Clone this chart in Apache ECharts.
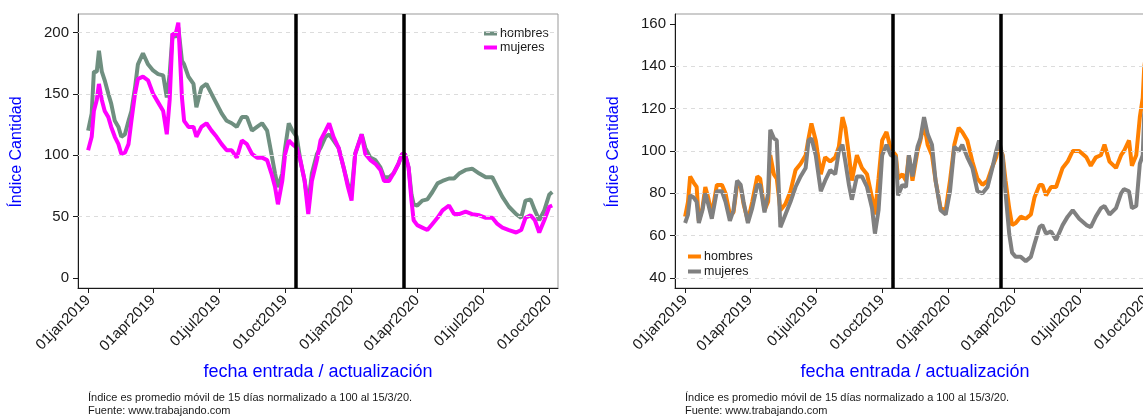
<!DOCTYPE html>
<html>
<head>
<meta charset="utf-8">
<script src="https://cdn.jsdelivr.net/npm/echarts@6/dist/echarts.min.js"></script>
<style>
  html, body { margin: 0; padding: 0; background: #fff; }
  #chart { width: 1143px; height: 419px; }
</style>
</head>
<body>
<div id="chart"></div>
<script>
// days counted from 01jan2019
const tickDays = [0, 90, 181, 273, 365, 456, 547, 639]
const tickLabels = ['01jan2019', '01apr2019', '01jul2019', '01oct2019', '01jan2020', '01apr2020', '01jul2020', '01oct2020']
const eventDays = [288, 437]

const yTicksLeft = [0, 50, 100, 150, 200]
const yGridLeft = [50, 100, 150, 200]
const yTicksRight = [40, 60, 80, 100, 120, 140, 160]
const yGridRight = [40, 60, 80, 100, 120, 140]

// left panel: hombres / mujeres
const daysLeft = [0, 5, 8, 12, 15, 19, 23, 28, 32, 37, 42, 46, 51, 56, 60, 65, 69, 76, 83, 90,
  97, 104, 109, 113, 117, 121, 125, 130, 133, 139, 146, 150, 157, 164, 171, 178, 185, 192, 199, 206,
  213, 220, 227, 234, 241, 248, 254, 259, 263, 269, 273, 278, 283, 289, 294, 300, 305, 310, 317, 322,
  329, 334, 340, 347, 354, 360, 365, 370, 379, 384, 391, 398, 405, 410, 417, 423, 430, 435, 439, 444,
  448, 451, 456, 463, 470, 477, 484, 491, 500, 507, 514, 523, 532, 542, 551, 560, 567, 574, 583, 593,
  600, 606, 613, 619, 625, 632, 639, 643]
const hombresLeft = [120, 134, 168, 168, 185, 168, 161, 150, 142, 128, 123, 115, 117, 128, 136, 155, 174, 183, 174, 169,
  166, 165, 147, 166, 199, 196, 204, 177, 174, 164, 158, 139, 155, 158, 150, 142, 134, 128, 126, 123,
  131, 131, 120, 123, 126, 120, 101, 85, 74, 85, 106, 126, 120, 115, 96, 79, 60, 85, 101, 106,
  115, 117, 112, 106, 90, 76, 71, 101, 117, 106, 98, 96, 90, 82, 82, 85, 93, 101, 101, 90,
  68, 60, 59, 63, 64, 70, 77, 79, 81, 81, 85, 88, 89, 85, 82, 82, 74, 66, 58, 52,
  49, 63, 64, 55, 47, 55, 68, 70]
const mujeresLeft = [104, 115, 136, 145, 158, 145, 136, 131, 123, 115, 109, 101, 102, 109, 128, 150, 162, 164, 161, 150,
  143, 136, 117, 145, 199, 198, 208, 147, 128, 123, 123, 115, 123, 126, 120, 115, 109, 104, 104, 98,
  112, 109, 101, 98, 98, 96, 85, 74, 60, 79, 101, 112, 109, 106, 96, 79, 52, 79, 96, 112,
  120, 126, 115, 106, 90, 74, 63, 101, 117, 101, 96, 93, 88, 79, 79, 85, 93, 101, 101, 90,
  63, 47, 43, 41, 39, 44, 49, 55, 59, 52, 52, 54, 52, 51, 49, 49, 44, 41, 39, 37,
  39, 49, 51, 47, 37, 47, 58, 59]

// right panel: hombres / mujeres
const daysRight = [0, 4, 7, 12, 16, 19, 24, 28, 32, 37, 44, 51, 56, 62, 67, 72, 77, 81, 87, 93,
  100, 104, 110, 115, 118, 123, 127, 132, 139, 146, 153, 160, 167, 171, 175, 181, 188, 194, 201, 208,
  213, 218, 222, 227, 231, 238, 245, 252, 259, 263, 268, 273, 279, 285, 292, 295, 301, 306, 310, 315,
  322, 326, 331, 336, 342, 347, 354, 361, 367, 373, 379, 384, 391, 398, 405, 412, 419, 425, 431, 435,
  440, 444, 449, 453, 458, 465, 472, 479, 484, 491, 495, 500, 507, 514, 523, 530, 537, 546, 556, 562,
  569, 576, 581, 588, 597, 604, 608, 615, 619, 625, 630, 634, 636, 640, 643]
const hombresRight = [69, 76, 88, 85, 83, 67, 73, 83, 78, 70, 84, 84, 80, 70, 71, 84, 83, 75, 67, 76,
  88, 87, 72, 76, 98, 89, 87, 72, 75, 81, 91, 94, 98, 106, 113, 105, 89, 97, 95, 97,
  102, 116, 111, 98, 86, 98, 92, 89, 78, 70, 87, 105, 109, 101, 98, 87, 89, 86, 98, 86,
  100, 105, 113, 103, 98, 86, 73, 72, 86, 103, 111, 109, 105, 95, 87, 84, 86, 92, 97, 103,
  98, 86, 73, 65, 66, 69, 68, 70, 78, 84, 84, 79, 83, 83, 92, 95, 100, 100, 97, 93,
  97, 98, 103, 95, 92, 98, 100, 105, 93, 98, 116, 125, 139, 150, 155]
const mujeresRight = [66, 70, 79, 78, 76, 66, 72, 80, 75, 68, 81, 81, 76, 67, 72, 86, 84, 76, 66, 73,
  84, 84, 71, 80, 110, 106, 105, 64, 70, 76, 83, 88, 92, 105, 106, 98, 81, 86, 91, 89,
  100, 103, 95, 84, 77, 88, 88, 83, 73, 61, 72, 98, 103, 98, 97, 79, 84, 83, 98, 88,
  102, 106, 116, 108, 103, 86, 72, 70, 81, 102, 100, 103, 97, 92, 81, 80, 83, 91, 100, 105,
  97, 80, 61, 52, 50, 50, 48, 50, 56, 64, 65, 61, 62, 58, 65, 69, 72, 68, 65, 64,
  69, 73, 74, 70, 73, 80, 82, 81, 73, 74, 94, 98, 117, 125, 130]

const colorsLeft = ['#6f8f80', '#ff00ff']
const colorsRight = ['#ff8000', '#808080']
const font = 'Liberation Sans, Arial, sans-serif'
const ink = '#1a1a1a'

const pairs = (xs, ys) => xs.map((d, i) => [d, ys[i]])

function xAxisFor(gridIndex) {
  return {
    type: 'value', gridIndex, min: -14, max: 651,
    axisLine: { show: true, onZero: false, lineStyle: { color: ink, width: 1 } },
    axisTick: { show: true, customValues: tickDays, length: 5, lineStyle: { color: ink } },
    axisLabel: {
      customValues: tickDays, rotate: 45, margin: 10, fontSize: 15, fontFamily: font, color: ink,
      formatter: v => tickLabels[tickDays.indexOf(v)] || ''
    },
    splitLine: { show: false }
  }
}

function yAxisFor(gridIndex, min, max, ticks) {
  return {
    type: 'value', gridIndex, min, max,
    axisLine: { show: true, onZero: false, lineStyle: { color: ink, width: 1 } },
    axisTick: { show: true, customValues: ticks, length: 5, lineStyle: { color: ink } },
    axisLabel: { customValues: ticks, margin: 9, fontSize: 15, fontFamily: font, color: ink },
    splitLine: { show: false }
  }
}

function gridSeries(idx, values) {
  return {
    type: 'line', xAxisIndex: idx, yAxisIndex: idx, data: [], silent: true, z: 1,
    markLine: {
      symbol: 'none', silent: true, animation: false, label: { show: false },
      lineStyle: { color: '#dcdcdc', type: [4, 4], width: 1 },
      data: values.map(v => ({ yAxis: v }))
    }
  }
}

function eventSeries(idx) {
  return {
    type: 'line', xAxisIndex: idx, yAxisIndex: idx, data: [], silent: true, z: 10,
    markLine: {
      symbol: 'none', silent: true, animation: false, label: { show: false },
      lineStyle: { color: '#000', type: 'solid', width: 3.5 },
      data: eventDays.map(d => ({ xAxis: d }))
    }
  }
}

function dataSeries(idx, name, xs, ys, color, z) {
  return {
    type: 'line', name, xAxisIndex: idx, yAxisIndex: idx, z,
    data: pairs(xs, ys), showSymbol: false, symbol: 'none', smooth: false,
    lineStyle: { color, width: 4 }, itemStyle: { color }
  }
}

const chart = echarts.init(document.getElementById('chart'))

const blue = '#0000ff'
const note1 = 'Índice es promedio móvil de 15 días normalizado a 100 al 15/3/20.'
const note2 = 'Fuente: www.trabajando.com'

function panelTexts(offset) {
  return [
    { type: 'text', x: 17 + offset, y: 152, rotation: Math.PI / 2,
      style: { text: 'Índice Cantidad', fill: blue, font: '16px ' + font, align: 'center', verticalAlign: 'middle' } },
    { type: 'text', x: 318 + offset, y: 372,
      style: { text: 'fecha entrada / actualización', fill: blue, font: '18px ' + font, align: 'center', verticalAlign: 'middle' } },
    { type: 'text', x: 88 + offset, y: 398,
      style: { text: note1, fill: ink, font: '11px ' + font, align: 'left', verticalAlign: 'middle' } },
    { type: 'text', x: 88 + offset, y: 411,
      style: { text: note2, fill: ink, font: '11px ' + font, align: 'left', verticalAlign: 'middle' } }
  ]
}

const gridBase = { top: 14, width: 480, height: 274, show: true, borderColor: '#999', borderWidth: 1,
  backgroundColor: '#fff', containLabel: false, outerBoundsMode: 'none' }

chart.setOption({
  animation: false,
  textStyle: { fontFamily: font },
  grid: [
    { ...gridBase, left: 78 },
    { ...gridBase, left: 675 }
  ],
  xAxis: [xAxisFor(0), xAxisFor(1)],
  yAxis: [yAxisFor(0, -8.2, 215, yTicksLeft), yAxisFor(1, 35.3, 164.7, yTicksRight)],
  legend: [
    {
      data: ['hombres', 'mujeres'], orient: 'vertical', left: 479, top: 22, itemGap: 1,
      itemWidth: 13, itemHeight: 4, icon: 'rect', selectedMode: false,
      textStyle: { fontSize: 12.5, fontFamily: font, color: ink, padding: [0, 0, 0, -2] }
    },
    {
      data: ['hombres ', 'mujeres '], orient: 'vertical', left: 683, top: 245, itemGap: 2,
      itemWidth: 13, itemHeight: 4, icon: 'rect', selectedMode: false,
      textStyle: { fontSize: 12.5, fontFamily: font, color: ink, padding: [0, 0, 0, -2] }
    }
  ],
  series: [
    gridSeries(0, yGridLeft),
    gridSeries(1, yGridRight),
    dataSeries(0, 'hombres', daysLeft, hombresLeft, colorsLeft[0], 3),
    dataSeries(0, 'mujeres', daysLeft, mujeresLeft, colorsLeft[1], 4),
    dataSeries(1, 'hombres ', daysRight, hombresRight, colorsRight[0], 3),
    dataSeries(1, 'mujeres ', daysRight, mujeresRight, colorsRight[1], 4),
    eventSeries(0),
    eventSeries(1)
  ],
  graphic: [...panelTexts(0), ...panelTexts(597)]
})

window.addEventListener('resize', () => chart.resize())
</script>
</body>
</html>
